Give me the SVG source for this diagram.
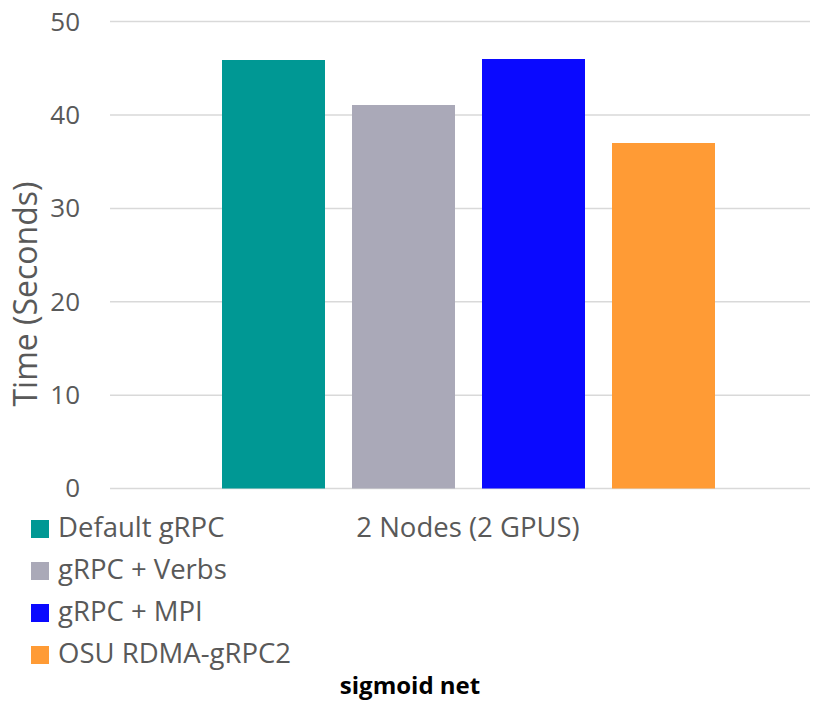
<svg xmlns="http://www.w3.org/2000/svg" width="825" height="702" viewBox="0 0 825 702">
<style>
.grid{stroke:#d9d9d9;stroke-width:1.5}
.tick{font-family:"Open Sans","Liberation Sans",sans-serif;font-size:26px;fill:#595959;text-anchor:end}
.leg{font-family:"Open Sans","Liberation Sans",sans-serif;font-size:27.5px;fill:#595959}
.title{font-family:"Open Sans","Liberation Sans",sans-serif;font-size:24px;font-weight:bold;fill:#000;text-anchor:middle}
</style>
<rect width="825" height="702" fill="#fff"/>
<g id="grid">
<line class="grid" x1="110" y1="21.5" x2="810" y2="21.5"/>
<line class="grid" x1="110" y1="115" x2="810" y2="115"/>
<line class="grid" x1="110" y1="208.4" x2="810" y2="208.4"/>
<line class="grid" x1="110" y1="301.8" x2="810" y2="301.8"/>
<line class="grid" x1="110" y1="395.2" x2="810" y2="395.2"/>
<line class="grid" x1="110" y1="488.5" x2="810" y2="488.5"/>
</g>
<g id="yticks">
<text class="tick" x="80" y="31">50</text>
<text class="tick" x="80" y="124">40</text>
<text class="tick" x="80" y="217">30</text>
<text class="tick" x="80" y="311">20</text>
<text class="tick" x="80" y="404">10</text>
<text class="tick" x="80" y="497">0</text>
</g>
<text id="ytitle" transform="translate(37,294) rotate(-90)" font-family="'Open Sans','Liberation Sans',sans-serif" font-size="32" fill="#595959" text-anchor="middle">Time (Seconds)</text>
<g id="bars">
<rect id="bar-default" x="222" y="60" width="103" height="428.5" fill="#009894"/>
<rect id="bar-verbs" x="352" y="105" width="103" height="383.5" fill="#aaa9b8"/>
<rect id="bar-mpi" x="482" y="59" width="103" height="429.5" fill="#0a09ff"/>
<rect id="bar-osu" x="612" y="143" width="103" height="345.5" fill="#ff9b35"/>
</g>
<text id="xcat" class="leg" x="468" y="537" text-anchor="middle">2 Nodes (2 GPUS)</text>
<g id="legend">
<rect x="31" y="520" width="18" height="18" fill="#009894"/>
<text class="leg" x="58" y="537">Default gRPC</text>
<rect x="31" y="562" width="18" height="18" fill="#aaa9b8"/>
<text class="leg" x="58" y="579">gRPC + Verbs</text>
<rect x="31" y="604" width="18" height="18" fill="#0a09ff"/>
<text class="leg" x="58" y="621">gRPC + MPI</text>
<rect x="31" y="646" width="18" height="18" fill="#ff9b35"/>
<text class="leg" x="58" y="663">OSU RDMA-gRPC2</text>
</g>
<text id="title" class="title" x="410" y="694">sigmoid net</text>
</svg>
